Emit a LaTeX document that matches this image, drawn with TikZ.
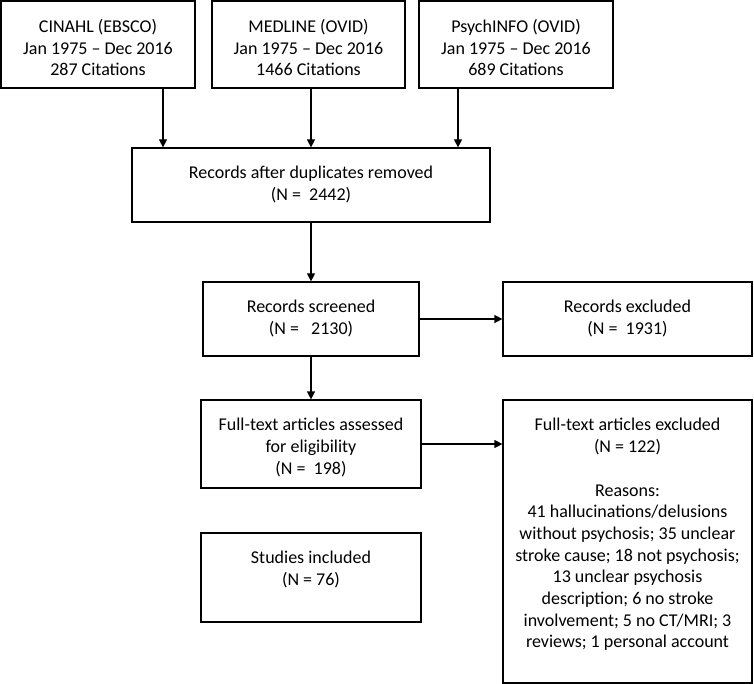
\documentclass[tikz,border=0pt]{standalone}
\usepackage{fontspec}
\setmainfont{Carlito}
\usetikzlibrary{arrows.meta}
\begin{document}
\begin{tikzpicture}[x=1pt,y=1pt,
  box/.style={draw, line width=1.2pt, inner sep=0pt},
  txt/.style={anchor=north, align=center, inner sep=0pt, font=\fontsize{18}{21.7}\selectfont, yshift=-18.8pt},
  arr/.style={-{Triangle[length=8pt,width=8pt]}, line width=1.2pt}]
\useasboundingbox (0,0) rectangle (754,-684);

\node[box, minimum width=194pt, minimum height=87pt,
  label={[txt]north:{CINAHL (EBSCO)\\Jan 1975 – Dec 2016\\287 Citations}}] (cinahl) at (98,-44.5) {};
\node[box, minimum width=193pt, minimum height=87pt,
  label={[txt]north:{MEDLINE (OVID)\\Jan 1975 – Dec 2016\\1466 Citations}}] (medline) at (308.5,-44.5) {};
\node[box, minimum width=194pt, minimum height=87pt,
  label={[txt]north:{PsychINFO (OVID)\\Jan 1975 – Dec 2016\\689 Citations}}] (psych) at (516,-44.5) {};

\node[box, minimum width=358pt, minimum height=74pt,
  label={[txt]north:{Records after duplicates removed\\(N =\ \ 2442)}}] (dup) at (311,-185) {};

\node[box, minimum width=216pt, minimum height=74pt,
  label={[txt]north:{Records screened\\(N =\ \ \ 2130)}}] (screen) at (311,-319) {};
\node[box, minimum width=249pt, minimum height=74pt,
  label={[txt]north:{Records excluded\\(N =\ \ 1931)}}] (excl) at (627.5,-319) {};

\node[box, minimum width=220pt, minimum height=88pt,
  label={[txt]north:{Full-text articles assessed\\for eligibility\\(N =\ \ 198)}}] (full) at (311,-444) {};
\node[box, minimum width=249pt, minimum height=283pt,
  label={[txt]north:{Full-text articles excluded\\(N = 122)\\[21.7pt]Reasons:\\41 hallucinations/delusions\\without psychosis; 35 unclear\\stroke cause; 18 not psychosis;\\13 unclear psychosis\\description; 6 no stroke\\involvement; 5 no CT/MRI; 3\\reviews; 1 personal account}}] (fte) at (627.5,-541.5) {};

\node[box, minimum width=220pt, minimum height=89pt,
  label={[txt]north:{Studies included\\(N = 76)}}] (studies) at (311,-577.5) {};

\coordinate (c1) at ([xshift=65pt]cinahl.south);
\coordinate (c2) at ([xshift=2.5pt]medline.south);
\coordinate (c3) at ([xshift=-58pt]psych.south);
\draw[arr] (c1) -- (c1 |- dup.north);
\draw[arr] (c2) -- (c2 |- dup.north);
\draw[arr] (c3) -- (c3 |- dup.north);
\draw[arr] (dup.south) -- (screen.north);
\draw[arr] (screen.east) -- (excl.west);
\draw[arr] (screen.south) -- (full.north);
\draw[arr] (full.east) -- (full.east -| fte.west);
\end{tikzpicture}
\end{document}
